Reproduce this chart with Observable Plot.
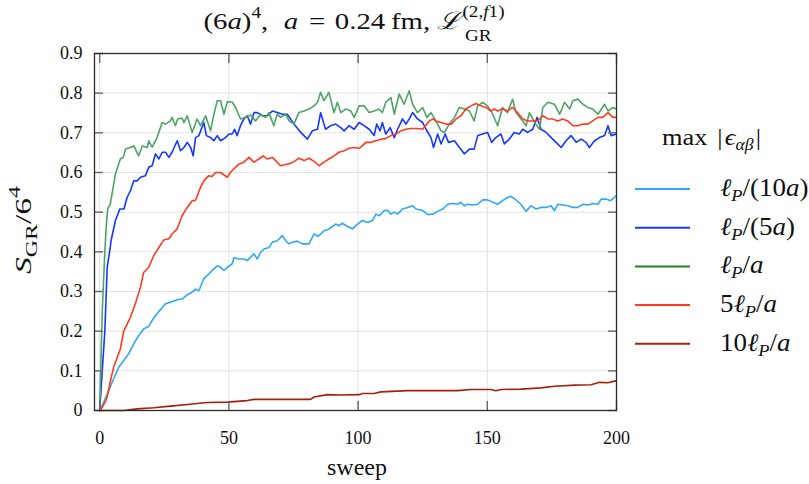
<!DOCTYPE html>
<html>
<head>
<meta charset="utf-8">
<script src="https://cdn.jsdelivr.net/npm/d3@7"></script>
<script src="https://cdn.jsdelivr.net/npm/@observablehq/plot@0.6"></script>
<style>
  html, body { margin: 0; padding: 0; background: #fff; }
  #wrap { width: 809px; height: 484px; }
</style>
</head>
<body>
<div id="wrap"></div>
<script>
// ---- data (sweep, S_GR/6^4) ----
const sweepTicks = [0, 50, 100, 150, 200];
const sTicks = [0, 0.1, 0.2, 0.3, 0.4, 0.5, 0.6, 0.7, 0.8, 0.9];

const seriesNames = ["ℓP/(10a)", "ℓP/(5a)", "ℓP/a", "5ℓP/a", "10ℓP/a"];
const lineColors = ["#2ea8f5", "#1438ff", "#4ea465", "#ff3a1e", "#a3200f"];
const legendColors = ["#2ea8f5", "#1438ff", "#227f22", "#ff3a1e", "#a3200f"];

const lightBlue = [[0,0],[1.6,0.021],[3.5,0.05],[5.4,0.08],[7.4,0.109],[9.3,0.126],[11.2,0.143],[13.2,0.168],[15.1,0.189],[17.1,0.206],[19,0.212],[20.3,0.227],[22.2,0.244],[23.5,0.254],[25.5,0.269],[27.4,0.273],[30,0.279],[31.9,0.281],[33.9,0.292],[35.8,0.298],[37.1,0.306],[38.4,0.302],[40.3,0.332],[42.2,0.344],[44.2,0.357],[45.5,0.365],[46.8,0.361],[48.1,0.353],[49.4,0.361],[51.3,0.37],[51.9,0.385],[53.9,0.382],[55.8,0.382],[57.1,0.378],[58.4,0.386],[59.7,0.395],[61,0.382],[62.3,0.399],[63.6,0.407],[65.5,0.411],[66.8,0.424],[68.7,0.428],[70.7,0.441],[72,0.428],[73.3,0.42],[74.6,0.424],[76.5,0.427],[78.4,0.42],[81,0.42],[83,0.445],[84.5,0.439],[86.8,0.453],[88.7,0.457],[91.3,0.47],[92.6,0.466],[93.9,0.472],[95.9,0.464],[97.8,0.458],[99.8,0.47],[101.7,0.479],[103.6,0.474],[105.6,0.479],[106.9,0.495],[108.2,0.491],[110.1,0.504],[111.4,0.505],[112.7,0.495],[114,0.5],[115.3,0.495],[117.2,0.508],[119.2,0.512],[121.1,0.516],[122.4,0.508],[125,0.504],[127,0.494],[128.9,0.495],[130.8,0.502],[132.8,0.508],[134.7,0.52],[136.6,0.522],[138.6,0.52],[139.8,0.525],[141.1,0.516],[142.4,0.52],[144.3,0.518],[146.3,0.52],[148.2,0.531],[150.1,0.531],[152.1,0.525],[154,0.52],[155.9,0.529],[157.8,0.537],[159.2,0.54],[161.1,0.531],[163,0.52],[165,0.502],[166.9,0.516],[168.9,0.508],[170.8,0.512],[172.7,0.512],[174.7,0.516],[176,0.504],[177.3,0.52],[179.2,0.518],[181.2,0.516],[183.1,0.512],[185,0.512],[187,0.52],[188.9,0.518],[190.8,0.522],[192.8,0.52],[194.1,0.533],[196,0.533],[197.7,0.529],[199.2,0.537],[200,0.542]];

const blue = [[0,0],[1,0.1],[2,0.2],[2.9,0.36],[4.1,0.411],[4.4,0.428],[6.1,0.479],[7.8,0.508],[9.4,0.508],[10.6,0.537],[11.9,0.554],[13.2,0.579],[14.5,0.579],[15.8,0.588],[17.7,0.592],[19,0.613],[20.3,0.617],[21.6,0.647],[22.9,0.634],[24.2,0.651],[25.5,0.651],[26.8,0.638],[28,0.651],[30,0.68],[31.3,0.655],[32.6,0.663],[33.9,0.676],[35.2,0.663],[36.2,0.642],[37.1,0.688],[38.4,0.693],[40.3,0.726],[41.3,0.693],[42.9,0.688],[44.2,0.68],[45.5,0.693],[46.8,0.68],[48.7,0.688],[50,0.697],[51.3,0.697],[52.2,0.709],[53.2,0.693],[54.5,0.718],[55.8,0.735],[57.1,0.743],[58.4,0.722],[59.7,0.751],[61,0.751],[62.9,0.743],[64.9,0.743],[66.8,0.755],[68.7,0.751],[70.7,0.747],[72.6,0.747],[75.2,0.722],[77.8,0.701],[80.4,0.684],[82.3,0.705],[84.3,0.709],[85.5,0.751],[87.4,0.709],[89.4,0.718],[91.3,0.722],[93.3,0.713],[94.6,0.705],[96.5,0.718],[98.5,0.709],[100.4,0.726],[102.3,0.718],[104.3,0.709],[106.2,0.693],[107.2,0.722],[108.5,0.705],[109.4,0.726],[110.7,0.697],[112.4,0.713],[114,0.688],[115.3,0.709],[117.2,0.735],[118.5,0.722],[119.8,0.735],[121.1,0.751],[123,0.735],[125,0.726],[126.3,0.709],[128.2,0.688],[129.2,0.663],[130.8,0.697],[132.1,0.672],[133.7,0.697],[135,0.676],[137.3,0.68],[139.2,0.663],[141.1,0.647],[143.1,0.659],[144.9,0.659],[146.3,0.693],[148.2,0.697],[150.1,0.701],[151.7,0.676],[153.3,0.688],[155.3,0.697],[156.6,0.672],[158.5,0.684],[160.4,0.701],[162.4,0.697],[163.7,0.709],[165.6,0.701],[167.6,0.709],[169.3,0.739],[170.8,0.709],[172.8,0.701],[174.7,0.688],[176.6,0.676],[178.6,0.663],[180.5,0.68],[182.4,0.693],[184.4,0.676],[186.3,0.684],[188.2,0.676],[189.5,0.663],[191.5,0.68],[193.4,0.688],[195.4,0.693],[196.7,0.718],[197.9,0.693],[200,0.697]];

const green = [[0,0],[1,0.25],[2,0.4],[2.6,0.47],[3.1,0.508],[4.1,0.52],[6.1,0.596],[8,0.634],[9.1,0.638],[10,0.659],[11.9,0.663],[13.2,0.667],[15.1,0.642],[16.5,0.667],[18.4,0.663],[19,0.68],[20.3,0.664],[22.2,0.688],[24.2,0.726],[25.5,0.722],[27.4,0.73],[28,0.739],[29.3,0.718],[30.2,0.735],[31.9,0.737],[32.6,0.726],[33.9,0.743],[35.8,0.701],[37.7,0.735],[39,0.718],[41,0.743],[42.9,0.705],[44.2,0.747],[45.5,0.781],[46.8,0.781],[48.1,0.747],[49.4,0.779],[51.3,0.777],[52.6,0.764],[54.5,0.735],[56.4,0.739],[58.4,0.745],[60.3,0.73],[62.3,0.747],[64.2,0.739],[65.5,0.751],[67.4,0.718],[68.7,0.747],[70,0.739],[72,0.747],[73.3,0.73],[75.2,0.722],[77.1,0.751],[79.1,0.755],[81,0.76],[83,0.768],[84.3,0.777],[85.5,0.802],[86.8,0.781],[88.7,0.802],[90.7,0.751],[92,0.777],[93.3,0.751],[95.2,0.76],[97.2,0.755],[98.5,0.739],[100.4,0.768],[102.3,0.768],[104.3,0.751],[106.2,0.755],[108.1,0.76],[109.4,0.751],[110.7,0.777],[112.7,0.789],[114,0.747],[115.9,0.798],[117.8,0.772],[119.8,0.806],[121.1,0.772],[123,0.751],[125,0.764],[126.6,0.739],[128.2,0.751],[130.1,0.73],[132.1,0.705],[133.4,0.701],[135.3,0.722],[137.3,0.739],[139.2,0.764],[141.1,0.76],[143.1,0.755],[144.9,0.73],[146.3,0.768],[148.2,0.777],[150.1,0.768],[152.1,0.747],[154,0.718],[155.9,0.764],[157.8,0.751],[159.8,0.785],[161.1,0.751],[163.7,0.73],[165,0.718],[166.3,0.751],[168.3,0.726],[170.2,0.709],[171.5,0.764],[173.4,0.777],[176,0.772],[178,0.747],[179.9,0.777],[181.9,0.76],[183.1,0.781],[185,0.785],[187,0.772],[188.9,0.764],[190.8,0.76],[192.8,0.747],[195.4,0.772],[196.7,0.755],[198.6,0.764],[200,0.76]];

const red = [[0,0],[1,0.008],[2,0.02],[2.9,0.034],[4,0.07],[5.4,0.109],[8,0.155],[9.3,0.2],[11.9,0.235],[13.8,0.269],[15.8,0.311],[17,0.348],[19,0.361],[20.9,0.39],[22.9,0.411],[24.8,0.43],[26.8,0.433],[28,0.445],[30,0.458],[31.9,0.491],[33.9,0.512],[35.8,0.529],[37.1,0.53],[39,0.562],[40.3,0.579],[42.2,0.592],[43.5,0.59],[44.8,0.6],[46.8,0.6],[49.4,0.588],[50.6,0.6],[51.9,0.609],[53.9,0.621],[55.8,0.626],[57.8,0.638],[59.7,0.626],[61.6,0.634],[63.3,0.642],[64.9,0.634],[66.8,0.638],[68.7,0.626],[70,0.617],[72,0.62],[73.9,0.623],[75.8,0.63],[77.1,0.636],[79.1,0.63],[81,0.636],[83,0.628],[84.9,0.617],[86.8,0.626],[88.7,0.634],[90.7,0.642],[92.6,0.651],[94.6,0.655],[96.5,0.661],[98.5,0.663],[100.4,0.661],[101.1,0.664],[103,0.676],[105,0.676],[106.9,0.68],[108.9,0.684],[110.8,0.686],[112.7,0.693],[114.6,0.697],[116.6,0.705],[118.5,0.709],[120.4,0.711],[123,0.711],[125,0.709],[127.6,0.73],[128.9,0.735],[130.1,0.73],[132.1,0.726],[134,0.722],[136,0.722],[137.9,0.735],[139.8,0.743],[141.7,0.76],[143.7,0.768],[145.6,0.774],[147.5,0.768],[149.5,0.764],[151.4,0.755],[152.7,0.76],[154,0.755],[155.9,0.76],[157.8,0.755],[159.8,0.764],[161.7,0.751],[163.7,0.735],[165.6,0.73],[167.6,0.73],[169.5,0.73],[171.5,0.743],[173.4,0.735],[175.3,0.735],[177.3,0.73],[179.2,0.735],[181.1,0.73],[183.1,0.718],[185,0.718],[187,0.722],[188.9,0.722],[190.8,0.73],[192.8,0.739],[194.7,0.739],[196.7,0.751],[198.6,0.739],[200,0.739]];

const darkRed = [[0,0],[9.3,0],[14.5,0.004],[20.9,0.007],[27.4,0.011],[33.9,0.015],[41.6,0.02],[49.4,0.021],[57.1,0.025],[59.7,0.028],[81.6,0.028],[83,0.034],[88.1,0.04],[93.3,0.039],[100.4,0.04],[101.7,0.043],[106.2,0.043],[108.8,0.047],[119.2,0.05],[138.6,0.05],[143.7,0.053],[151.4,0.053],[153.3,0.05],[155.3,0.053],[163,0.054],[170.8,0.057],[176,0.061],[183.8,0.064],[190.2,0.065],[193.4,0.071],[196.7,0.07],[199.2,0.074],[200,0.074]];

const seriesData = [lightBlue, blue, green, red, darkRed];

// ---- build rows ----
const rows = seriesData.flatMap((s, i) => s.map(([x, y]) => ({sweep: x, S: y, series: seriesNames[i]})));

const serif = "Liberation Serif, Times New Roman, Tinos, DejaVu Serif, serif";
const tickStroke = "#666";

const chart = Plot.plot({
  width: 809,
  height: 484,
  marginLeft: 94,
  marginRight: 193,
  marginTop: 53,
  marginBottom: 74,
  style: {fontFamily: serif, fontSize: "18px", color: "#111", background: "#fff", overflow: "visible"},
  x: {domain: [-2, 200], label: null},
  y: {domain: [0, 0.9], label: null},
  color: {domain: seriesNames, range: lineColors},
  marks: [
    Plot.gridX(sweepTicks, {stroke: "#e2e2e2", strokeOpacity: 1, strokeWidth: 1}),
    Plot.gridY(sTicks, {stroke: "#e2e2e2", strokeOpacity: 1, strokeWidth: 1}),
    Plot.line(rows, {x: "sweep", y: "S", z: "series", stroke: "series", strokeWidth: 1.6, strokeLinejoin: "round"}),
    Plot.axisX(sweepTicks, {anchor: "bottom", tickSize: 0, tickPadding: 21, label: null, tickFormat: d => String(d), fontSize: 18, fontFamily: serif}),
    Plot.axisX(sweepTicks, {anchor: "bottom", tickSize: -9, label: null, tickFormat: () => "", stroke: tickStroke, strokeWidth: 1.4}),
    Plot.axisX(sweepTicks, {anchor: "top", tickSize: -9, label: null, tickFormat: () => "", stroke: tickStroke, strokeWidth: 1.4}),
    Plot.axisY(sTicks, {anchor: "left", tickSize: 0, tickPadding: 12, label: null, tickFormat: d => d === 0 ? "0" : d.toFixed(1), fontSize: 18, fontFamily: serif}),
    Plot.axisY(sTicks, {anchor: "left", tickSize: -9, label: null, tickFormat: () => "", stroke: tickStroke, strokeWidth: 1.4}),
    Plot.axisY(sTicks, {anchor: "right", tickSize: -9, label: null, tickFormat: () => "", stroke: tickStroke, strokeWidth: 1.4}),
    Plot.frame({stroke: "#2a2a2a", strokeWidth: 1.3})
  ]
});

document.getElementById("wrap").appendChild(chart);

// ---- decorations: title, axis labels, legend ----
const svg = d3.select(chart);
const deco = svg.append("g")
  .attr("font-family", serif)
  .attr("fill", "#111")
  .attr("text-anchor", "start");

// Title: main part, then stacked superscript (2,f1) and subscript GR
const supTmp = deco.append("text").attr("font-size", 16).text("(2,f1)");
const supW = supTmp.node().getComputedTextLength();
supTmp.remove();

const title = deco.append("text")
  .attr("transform", "translate(354,29) scale(1.2,1)")
  .attr("font-size", 24).attr("text-anchor", "middle");
title.append("tspan").text("(6");
title.append("tspan").attr("font-style", "italic").text("a");
title.append("tspan").text(")");
title.append("tspan").attr("font-size", 16).attr("dy", -11).text("4");
title.append("tspan").attr("dy", 11).text(",");
title.append("tspan").attr("font-style", "italic").attr("dx", 7).text(" a");
title.append("tspan").attr("dx", 3).text(" = ");
title.append("tspan").attr("dx", 2).text("0.24\u2009fm, ");
title.append("tspan").attr("font-style", "italic").text("ℒ");
title.append("tspan").attr("font-size", 16).attr("dy", -12).attr("dx", 1).text("(2,");
title.append("tspan").attr("font-size", 16).attr("font-style", "italic").text("f");
title.append("tspan").attr("font-size", 16).text("1)");
title.append("tspan").attr("font-size", 16).attr("dy", 24).attr("dx", -supW + 3).text("GR");

// x label
deco.append("text").attr("x", 357).attr("y", 475).attr("text-anchor", "middle").attr("font-size", 24).text("sweep");

// y label
const yl = deco.append("text")
  .attr("transform", "translate(31,230) rotate(-90) scale(1.4,1)")
  .attr("text-anchor", "middle").attr("font-size", 24);
yl.append("tspan").attr("font-style", "italic").text("S");
yl.append("tspan").attr("font-size", 17).attr("dy", 6).text("GR");
yl.append("tspan").attr("dy", -6).text("/6");
yl.append("tspan").attr("font-size", 17).attr("dy", -11).text("4");

// legend
const lt = deco.append("text").attr("transform", "translate(662,145) scale(1.1,1)").attr("font-size", 24);
lt.append("tspan").text("max ");
lt.append("tspan").attr("dx", 3).text("|");
lt.append("tspan").attr("font-style", "italic").attr("dx", 2).text("ϵ");
lt.append("tspan").attr("font-style", "italic").attr("font-size", 16).attr("dy", 5).text("αβ");
lt.append("tspan").attr("dy", -5).attr("dx", 2).text("|");

const legendLabels = [
  [["ℓ", true], ["P", true, "sub"], ["/(10", false], ["a", true], [")", false]],
  [["ℓ", true], ["P", true, "sub"], ["/(5", false], ["a", true], [")", false]],
  [["ℓ", true], ["P", true, "sub"], ["/", false], ["a", true]],
  [["5", false], ["ℓ", true], ["P", true, "sub"], ["/", false], ["a", true]],
  [["10", false], ["ℓ", true], ["P", true, "sub"], ["/", false], ["a", true]]
];
seriesNames.forEach((name, i) => {
  const y = 189 + i * 38.7;
  deco.append("line").attr("x1", 635).attr("x2", 690).attr("y1", y).attr("y2", y)
    .attr("stroke", legendColors[i]).attr("stroke-width", 2);
  const t = deco.append("text")
    .attr("transform", `translate(720,${y + 7}) scale(1.08,1)`)
    .attr("font-size", 25);
  let sub = false;
  legendLabels[i].forEach(([s, it, kind]) => {
    const sp = t.append("tspan").text(s);
    if (it) sp.attr("font-style", "italic");
    if (kind === "sub") { sp.attr("font-size", 17).attr("dy", 5); sub = true; }
    else if (sub) { sp.attr("dy", -5); sub = false; }
  });
});
</script>
</body>
</html>
